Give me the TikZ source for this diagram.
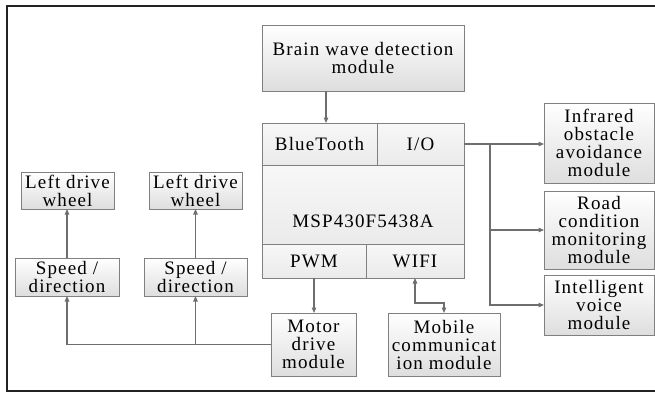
\documentclass[tikz,border=0pt]{standalone}
\usepackage{fontspec}
\setmainfont[LetterSpace=6]{Liberation Serif}
\usetikzlibrary{arrows.meta}
\definecolor{linegray}{HTML}{6E6E6E}
\definecolor{boxgray}{HTML}{808080}
\definecolor{textc}{HTML}{000000}
\definecolor{framec}{HTML}{222222}
\begin{document}
\begin{tikzpicture}[x=1pt,y=-1pt,
  box/.style={draw=boxgray, line width=0.9pt, top color=white, bottom color=black!13,
    inner sep=0pt, outer sep=0pt, align=center, text=textc,
    font=\fontsize{19}{18}\selectfont},
  cell/.style={box, top color=black!3, bottom color=black!8},
  lbl/.style={inner sep=0pt, text=textc, font=\fontsize{19}{18}\selectfont},
  arr/.style={draw=linegray, line width=1.1pt, -{Triangle[length=5.5pt,width=4.5pt]}},
  arrb/.style={draw=linegray, line width=1.1pt, {Triangle[length=5.5pt,width=4.5pt]}-{Triangle[length=5.5pt,width=4.5pt]}},
  frame/.style={draw=framec, line width=2.8pt}]
\useasboundingbox (0,0) rectangle (655,393);
% frame
\draw[frame] (655,6) -- (7,6) -- (7,391) -- (655,391);

% nodes
\node[box, minimum width=202pt, minimum height=66pt] (brain) at (363,58) {Brain wave detection\\module};
\node[cell, minimum width=115pt, minimum height=42pt] (bt) at (319.5,144) {BlueTooth};
\node[cell, minimum width=87pt, minimum height=42pt] (io) at (420.5,144) {I/O};
\node[cell, minimum width=202pt, minimum height=79pt] (msp) at (363,204.5) {};
\node[lbl] (msplabel) at (363,221) {MSP430F5438A};
\node[cell, minimum width=104pt, minimum height=34pt] (pwm) at (314,261) {PWM};
\node[cell, minimum width=98pt, minimum height=34pt] (wifi) at (415,261) {WIFI};

\node[box, minimum width=110pt, minimum height=80pt] (infra) at (599,143) {Infrared\\obstacle\\avoidance\\module};
\node[box, minimum width=110pt, minimum height=78pt] (road) at (599,230) {Road\\condition\\monitoring\\module};
\node[box, minimum width=110pt, minimum height=60pt] (voice) at (599,305) {Intelligent\\voice\\module};

\node[box, minimum width=93pt, minimum height=37pt] (wheel1) at (67.5,190.5) {Left drive\\wheel};
\node[box, minimum width=93pt, minimum height=37pt] (wheel2) at (195.5,190.5) {Left drive\\wheel};
\node[box, minimum width=104pt, minimum height=38pt] (speed1) at (67,277) {Speed /\\direction};
\node[box, minimum width=103pt, minimum height=38pt] (speed2) at (195.5,277) {Speed /\\direction};

\node[box, minimum width=85pt, minimum height=63pt] (motor) at (313.5,344.5) {Motor\\drive\\module};
\node[box, minimum width=112pt, minimum height=63pt] (mobile) at (444,344.5) {Mobile\\communicat\\ion module};

% connectors
\coordinate (bwout) at (326,91);
\draw[arr] (bwout) -- (bwout |- bt.north);
\draw[arr] (io.east) -- (io.east -| infra.west);
\coordinate (br) at (490,144);
\draw[arr] (br) |- (road.west);
\draw[arr] (br) |- (voice.west);
\draw[arr] (pwm.south) -- (pwm.south |- motor.north);
\draw[arrb] (wifi.south) -- ++(0,25) -| (mobile.north);
\draw[arr] (motor.west) -| (speed1.south);
\draw[arr] (speed2.south |- motor.west) -- (speed2.south);
\draw[arr] (speed1.north) -- (speed1.north |- wheel1.south);
\draw[arr] (speed2.north) -- (speed2.north |- wheel2.south);
\end{tikzpicture}
\end{document}
